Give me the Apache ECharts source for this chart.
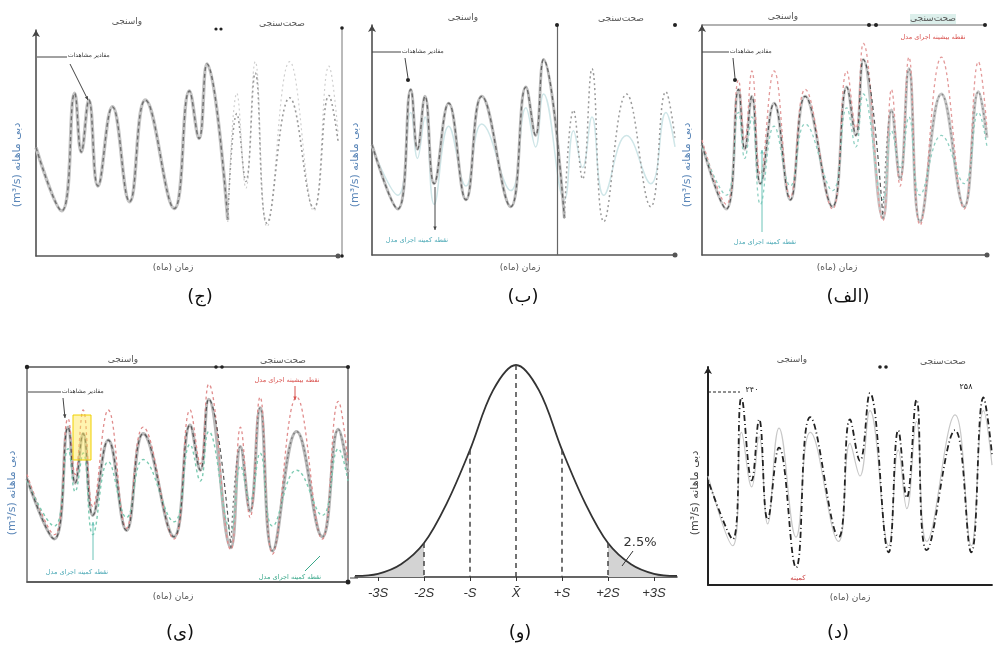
<!DOCTYPE html>
<html>
<head>
<meta charset="utf-8">
<script src="https://cdn.jsdelivr.net/npm/echarts@6/dist/echarts.min.js"></script>
<style>
html, body { margin: 0; padding: 0; background: #fff; }
#chart { width: 994px; height: 656px; }
</style>
</head>
<body>
<div id="chart"></div>
<script>
// turning points of the monthly discharge curves (time 0-100, value 0-100)
const months = [0, 8.5, 12.8, 15, 17.5, 20.5, 25.3, 31, 36.2, 45.8, 50.8, 54, 56.6, 63.5, 66.5, 69.5, 72.6, 76.5, 84, 92, 97, 100];
const observed = [48, 20, 72, 46, 69, 31, 66, 24, 69, 21, 73, 52, 85, 16, 63, 33, 81, 14.5, 70, 21, 71, 51];
const simHigh = [50, 22, 76, 50, 80, 35, 80, 25, 72, 20, 80, 55, 92, 15, 72, 30, 86, 13, 86, 20, 84, 55];
const simLow = [47, 26, 62, 42, 60, 22, 56, 30, 57, 28, 64, 47, 70, 24, 54, 38, 60, 26, 52, 31, 62, 47];
const calEnd = 13; // first validation point

// panel (د)
const monthsD = [0, 8.7, 11.8, 15.4, 18, 21, 25, 31, 36, 46, 50, 53.5, 57, 63.6, 67, 70, 73.4, 77, 87, 92.7, 97, 100];
const panelD = [48, 21, 86, 48, 76, 30, 63, 8, 77, 22, 76, 57, 88, 15, 71, 40, 85, 16, 71, 15, 86, 60];
const panelDGray = [50, 18, 70, 45, 68, 28, 72, 22, 70, 20, 65, 50, 80, 18, 62, 35, 75, 20, 78, 18, 80, 55];

// panel (و) normal curve
const sigma = [-3.5, -3, -2.5, -2, -1.5, -1, -0.5, 0, 0.5, 1, 1.5, 2, 2.5, 3, 3.5];
const density = [0.5, 1.5, 6, 16, 35, 60, 88, 100, 88, 60, 35, 16, 6, 1.5, 0.5];
const sigmaTicks = [-3, -2, -1, 0, 1, 2, 3];
const sigmaLabels = ['-3S', '-2S', '-S', 'X\u0304', '+S', '+2S', '+3S'];
const sigmaMarks = [-2, -1, 0, 1, 2];

const fa = s => '\u202B' + s + '\u202C';
const FONT = '"DejaVu Sans", sans-serif';

function pts(xs, ys, from, to) {
    return xs.slice(from, to).map((x, i) => [x, ys[from + i]]);
}

function wave(idx, data, color, width, type, extra) {
    return Object.assign({
        type: 'line', xAxisIndex: idx, yAxisIndex: idx, data: data,
        smooth: 0.45, symbol: 'none', silent: true,
        lineStyle: { color: color, width: width, type: type }
    }, extra || {});
}

function xAx(idx, extra) {
    return Object.assign({
        gridIndex: idx, type: 'value', min: 0, max: 100,
        axisLabel: { show: false }, axisTick: { show: false }, splitLine: { show: false },
        axisLine: { show: true, symbol: ['none', 'circle'], symbolSize: [5, 5], lineStyle: { color: '#555', width: 1.5 } }
    }, extra || {});
}

function yAx(idx, extra) {
    return Object.assign({
        gridIndex: idx, type: 'value', min: 0, max: 100,
        axisLabel: { show: false }, axisTick: { show: false }, splitLine: { show: false },
        axisLine: { show: true, symbol: ['none', 'arrow'], symbolSize: [6, 7], lineStyle: { color: '#444', width: 1.5 } }
    }, extra || {});
}

function txt(x, y, s, size, color, rot, align) {
    const a = align || 'center';
    return {
        type: 'text', x: x, y: y, rotation: rot || 0, silent: true, z: 10,
        style: { text: s, fill: color, font: size + 'px ' + FONT, align: a, verticalAlign: 'middle', textAlign: a, textVerticalAlign: 'middle' }
    };
}

function seg(x1, y1, x2, y2, color, width, dash) {
    return { type: 'line', silent: true, z: 10, shape: { x1: x1, y1: y1, x2: x2, y2: y2 }, style: { stroke: color, lineWidth: width || 1, lineDash: dash || null } };
}

function arrow(x1, y1, x2, y2, color) {
    const a = Math.atan2(y2 - y1, x2 - x1), s = 4;
    return [
        seg(x1, y1, x2, y2, color, 1),
        { type: 'polygon', silent: true, z: 10, shape: { points: [[x2, y2], [x2 - s * Math.cos(a - 0.45), y2 - s * Math.sin(a - 0.45)], [x2 - s * Math.cos(a + 0.45), y2 - s * Math.sin(a + 0.45)]] }, style: { fill: color } }
    ];
}

function dot(x, y, r, color) {
    return { type: 'circle', silent: true, z: 10, shape: { cx: x, cy: y, r: r || 2 }, style: { fill: color || '#222' } };
}

const calib = fa('واسنجی'), valid = fa('صحت‌سنجی'), timeLab = fa('زمان (ماه)'), qLab = fa('دبی ماهانه (m³/s)');
const obsLab = fa('مقادیر مشاهدات'), minLab = fa('نقطه کمینه اجرای مدل'), maxLab = fa('نقطه بیشینه اجرای مدل');

const graphics = [
    // panel letters
    txt(200, 297, fa('(ج)'), 18, '#111'), txt(523, 297, fa('(ب)'), 18, '#111'), txt(848, 297, fa('(الف)'), 18, '#111'),
    txt(180, 633, fa('(ی)'), 18, '#111'), txt(520, 633, fa('(و)'), 18, '#111'), txt(838, 633, fa('(د)'), 18, '#111'),
    // (ج)
    txt(127, 22, calib, 9, '#555'), txt(282, 24, valid, 9, '#555'), dot(216, 29, 1.6), dot(221, 29, 1.6),
    txt(173, 268, timeLab, 9, '#555'), txt(17, 165, qLab, 11, '#5a86b8', Math.PI / 2),
    seg(37, 57, 67, 57, '#444', 1), txt(68, 55, obsLab, 6, '#333', 0, 'left'),
    ...arrow(70, 64, 88, 100, '#444'),
    seg(342, 28, 342, 256, '#777', 1), dot(342, 28, 1.8), dot(342, 256, 1.8),
    // (ب)
    txt(463, 18, calib, 9, '#555'), txt(621, 19, valid, 9, '#555'), dot(557, 25, 2), dot(675, 25, 2),
    txt(520, 268, timeLab, 9, '#555'), txt(355, 165, qLab, 11, '#5a86b8', Math.PI / 2),
    seg(372, 52, 401, 52, '#444', 1), txt(402, 51, obsLab, 6, '#333', 0, 'left'),
    seg(405, 58, 408, 78, '#444', 1), dot(408, 80, 2),
    ...arrow(435, 187, 435, 230, '#444'), txt(417, 240, minLab, 6.5, '#4aa8b5'),
    // (الف)
    seg(702, 25, 985, 25, '#666', 1.2), dot(869, 25, 2), dot(876, 25, 2), dot(985, 25, 2),
    { type: 'rect', silent: true, z: 9, shape: { x: 910, y: 14, width: 46, height: 10 }, style: { fill: '#dcefeb' } },
    txt(783, 17, calib, 9, '#555'), txt(933, 19, valid, 9, '#555'),
    txt(933, 37, maxLab, 6.5, '#d9534f'),
    txt(837, 268, timeLab, 9, '#555'), txt(687, 165, qLab, 11, '#5a86b8', Math.PI / 2),
    seg(702, 52, 729, 52, '#444', 1), txt(730, 51, obsLab, 6, '#333', 0, 'left'),
    seg(733, 58, 735, 78, '#444', 1), dot(735, 80, 2),
    ...arrow(762, 232, 762, 150, '#6cc4b8'), txt(765, 242, minLab, 6.5, '#4aa8b5'),
    // (ی)
    dot(216, 367, 1.8), dot(222, 367, 1.8), dot(27, 367, 2.2), dot(348, 367, 2), dot(348, 582, 2.2),
    txt(123, 360, calib, 9, '#555'), txt(283, 361, valid, 9, '#555'),
    txt(287, 380, maxLab, 6.5, '#d9534f'), ...arrow(295, 386, 295, 400, '#d9534f'),
    txt(173, 597, timeLab, 9, '#555'), txt(12, 493, qLab, 11, '#5a86b8', Math.PI / 2),
    seg(28, 392, 61, 392, '#444', 1), txt(62, 391, obsLab, 6, '#333', 0, 'left'),
    ...arrow(63, 398, 65, 418, '#444'),
    { type: 'rect', silent: true, z: 9, shape: { x: 73, y: 415, width: 18, height: 45 }, style: { fill: 'rgba(255,230,80,0.45)', stroke: '#f0d000', lineWidth: 1 } },
    ...arrow(93, 560, 93, 522, '#6cc4b8'), txt(77, 572, minLab, 6.5, '#4aa8b5'),
    txt(290, 577, minLab, 6.5, '#3aa88a'), seg(305, 571, 320, 556, '#3aa88a', 1),
    seg(350, 578, 358, 578, '#444', 1),
    // (و)
    txt(640, 543, '2.5%', 13, '#333'), seg(633, 551, 622, 566, '#333', 1),
    // (د)
    txt(792, 360, calib, 9, '#555'), txt(943, 362, valid, 9, '#555'), dot(880, 367, 1.8), dot(886, 367, 1.8),
    txt(850, 598, timeLab, 9, '#555'), txt(695, 493, qLab, 11, '#444', Math.PI / 2),
    seg(708, 392, 740, 392, '#222', 1.2, [3, 2]), txt(752, 390, '۲۴۰', 8, '#111'), txt(966, 387, '۲۵۸', 8, '#111'),
    txt(798, 578, fa('کمینه'), 7, '#c44')
];

const chart = echarts.init(document.getElementById('chart'));
chart.setOption({
    animation: false,
    backgroundColor: '#fff',
    grid: [
        { left: 36, top: 30, width: 302, height: 226 },
        { left: 372, top: 25, width: 303, height: 230 },
        { left: 702, top: 25, width: 285, height: 230 },
        { left: 27, top: 367, width: 321, height: 215, show: true, borderColor: '#555', borderWidth: 1.3 },
        { left: 355, top: 365, width: 322, height: 212 },
        { left: 708, top: 367, width: 284, height: 218 }
    ],
    xAxis: [
        xAx(0), xAx(1), xAx(2), xAx(3),
        xAx(4, {
            min: -3.5, max: 3.5,
            axisLine: { show: true, lineStyle: { color: '#333', width: 1.5 } },
            axisTick: { show: true, customValues: sigmaTicks, length: 4, lineStyle: { color: '#333' } },
            axisLabel: {
                show: true, customValues: sigmaTicks, margin: 10, color: '#333', fontSize: 13,
                fontStyle: 'italic', fontFamily: 'Liberation Sans',
                formatter: v => sigmaLabels[sigmaTicks.indexOf(v)]
            }
        }),
        xAx(5, { axisLine: { show: true, symbol: ['none', 'none'], lineStyle: { color: '#222', width: 1.8 } } })
    ],
    yAxis: [
        yAx(0), yAx(1), yAx(2), yAx(3, { axisLine: { show: false } }),
        yAx(4, { axisLine: { show: false } }),
        yAx(5, { axisLine: { show: true, symbol: ['none', 'arrow'], symbolSize: [6, 7], lineStyle: { color: '#222', width: 2 } } })
    ],
    series: [
        // (ج)
        wave(0, pts(months, observed, 0, calEnd + 1), '#c4c4c4', 3.5, 'solid'),
        wave(0, pts(months, observed, 0, calEnd + 1), '#6f6f6f', 1.4, [4, 3]),
        wave(0, pts(months, simHigh, calEnd, months.length), '#cfcfcf', 1.2, [2, 3]),
        wave(0, pts(months, observed, calEnd, months.length), '#9a9a9a', 1.6, [2, 3]),
        // (ب)
        wave(1, pts(months, simLow, 0, months.length), '#cfe6e8', 1.5, 'solid'),
        wave(1, pts(months, observed, 0, calEnd + 1), '#bdbdbd', 3, 'solid', {
            markLine: { silent: true, symbol: 'none', label: { show: false }, lineStyle: { color: '#666', width: 1.2, type: 'solid' }, data: [[{ coord: [61, 0] }, { coord: [61, 100] }]] }
        }),
        wave(1, pts(months, observed, 0, calEnd + 1), '#666', 1.3, [4, 3]),
        wave(1, pts(months, observed, calEnd, months.length), '#9a9a9a', 1.5, [2, 3]),
        // (الف)
        wave(2, pts(months, observed, 0, months.length), '#c6c6c6', 3, 'solid'),
        wave(2, pts(months, simHigh, 0, months.length), '#e39a9a', 1.3, [3, 3]),
        wave(2, pts(months, simLow, 0, months.length), '#8fd0c2', 1.3, [3, 3]),
        wave(2, pts(months, observed, 0, calEnd + 1), '#555', 1.2, [4, 3]),
        wave(2, pts(months, observed, calEnd, months.length), '#888', 1.3, [2, 3]),
        // (ی)
        wave(3, pts(months, observed, 0, months.length), '#b8b8b8', 3.2, 'solid'),
        wave(3, pts(months, simHigh, 0, months.length), '#e08c8c', 1.3, [3, 3]),
        wave(3, pts(months, simLow, 0, months.length), '#7ccbb2', 1.4, [3, 3]),
        wave(3, pts(months, observed, 0, calEnd + 1), '#555', 1.2, [4, 3]),
        wave(3, pts(months, observed, calEnd, months.length), '#7a7a7a', 1.3, [2, 3]),
        // (و)
        wave(4, pts(sigma, density, 0, 4), '#d3d3d3', 0, 'solid', { smooth: 0.3, areaStyle: { color: '#d3d3d3', opacity: 1 } }),
        wave(4, pts(sigma, density, 11, sigma.length), '#d3d3d3', 0, 'solid', { smooth: 0.3, areaStyle: { color: '#d3d3d3', opacity: 1 } }),
        wave(4, pts(sigma, density, 0, sigma.length), '#333', 1.8, 'solid', {
            smooth: 0.35,
            markLine: {
                silent: true, symbol: 'none', label: { show: false },
                lineStyle: { color: '#444', width: 1.5, type: [5, 4] },
                data: sigmaMarks.map(s => [{ coord: [s, density[sigma.indexOf(s)]] }, { coord: [s, 0] }])
            }
        }),
        // (د)
        wave(5, pts(monthsD, panelDGray, 0, monthsD.length), '#c8c8c8', 1.2, 'solid'),
        wave(5, pts(monthsD, panelD, 0, monthsD.length), '#222', 1.8, [1, 3, 6, 3])
    ],
    graphic: graphics
});
</script>
</body>
</html>
